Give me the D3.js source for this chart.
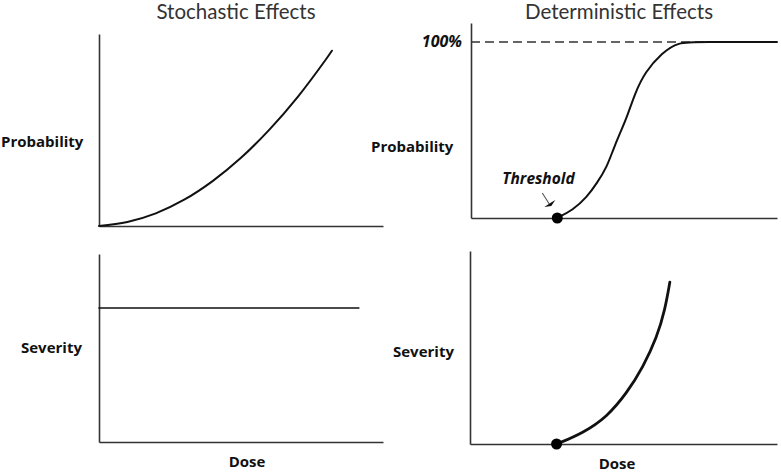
<!DOCTYPE html>
<html>
<head>
<meta charset="utf-8">
<script src="https://cdn.jsdelivr.net/npm/d3@7"></script>
<style>
  html, body { margin: 0; padding: 0; background: #fff; }
  svg { display: block; }
</style>
</head>
<body>
<svg id="chart" width="781" height="472"></svg>
<script>
// ---- data ----
const panelTitles = ["Stochastic Effects", "Deterministic Effects"];
const yLabels = ["Probability", "Severity"];
const xLabel = "Dose";
const maxLabel = "100%";
const thresholdLabel = "Threshold";

const stochProbDose  = [0, 1, 2, 3, 4, 5, 6, 7, 8, 8.2];
const stochProbValue = [0, 2.1, 6.6, 13.7, 23.4, 35.5, 50.2, 67.3, 87.0, 91.3];

const stochSevDose  = [0, 9.15];
const stochSevValue = [71.3, 71.3];

const detProbDose  = [2.81, 3.33, 3.79, 4.12, 4.44, 4.64, 4.87, 5.10, 5.36, 5.69, 6.24, 6.76, 7.48, 10];
const detProbValue = [0, 4.5, 11.9, 19.9, 29.0, 38.6, 48.3, 57.4, 71.0, 83.0, 93.75, 100, 100, 100];

const detSevDose  = [2.83, 3.68, 4.46, 5.11, 5.64, 6.09, 6.35, 6.51];
const detSevValue = [0, 5.7, 14.0, 26.4, 39.9, 55.4, 69.4, 83.9];

const thresholdDose = 2.82;
const maxProbability = 100;

// ---- layout ----
const svg = d3.select("#chart");
const labelFont = "'Open Sans', sans-serif";
const titleFont = "Lato, 'Open Sans', sans-serif";

const panels = [
  { x0: 99,  x1: 383, yb: 226, yt: 34,  ymax: 100,   dose: stochProbDose, val: stochProbValue, w: 2,   curve: d3.curveCatmullRom },
  { x0: 99,  x1: 383, yb: 442, yt: 254, ymax: 100,   dose: stochSevDose,  val: stochSevValue,  w: 1.6, curve: d3.curveLinear },
  { x0: 471, x1: 777, yb: 218, yt: 23,  ymax: 110.8, dose: detProbDose,   val: detProbValue,   w: 2,   curve: d3.curveBasis, det: true, prob: true },
  { x0: 470, x1: 777, yb: 444, yt: 251, ymax: 100,   dose: detSevDose,    val: detSevValue,    w: 2.8, curve: d3.curveBasis, det: true }
];

panels.forEach(p => {
  const x = d3.scaleLinear().domain([0, 10]).range([p.x0, p.x1]);
  const y = d3.scaleLinear().domain([0, p.ymax]).range([p.yb, p.yt]);
  p.x = x; p.y = y;

  // dashed 100% line
  if (p.prob) {
    svg.append("line")
      .attr("x1", x(0)).attr("x2", x(10))
      .attr("y1", y(maxProbability)).attr("y2", y(maxProbability))
      .attr("stroke", "#333").attr("stroke-width", 1.5)
      .attr("stroke-dasharray", "9,5");
    svg.append("text")
      .attr("x", x(0) - 9).attr("y", y(maxProbability) + 5)
      .attr("text-anchor", "end")
      .attr("font-family", labelFont).attr("font-weight", 700).attr("font-style", "italic")
      .attr("font-size", 16).attr("fill", "#111")
      .text(maxLabel);
  }

  const ax = svg.append("g").attr("transform", `translate(0,${p.yb})`)
    .call(d3.axisBottom(x).ticks(0).tickSizeOuter(0));
  const ay = svg.append("g").attr("transform", `translate(${p.x0},0)`)
    .call(d3.axisLeft(y).ticks(0).tickSizeOuter(0));
  [ax, ay].forEach(g => g.select(".domain").attr("stroke", "#333").attr("stroke-width", 1.6));

  const pts = p.dose.map((d, i) => [d, p.val[i]]);
  svg.append("path")
    .datum(pts)
    .attr("fill", "none")
    .attr("stroke", "#111")
    .attr("stroke-width", p.w)
    .attr("stroke-linecap", "round")
    .attr("d", d3.line().x(d => x(d[0])).y(d => y(d[1])).curve(p.curve));

  if (p.det) {
    svg.append("circle")
      .attr("cx", x(thresholdDose)).attr("cy", y(0)).attr("r", 5.5)
      .attr("fill", "#000");
  }
});

// threshold label + arrow
{
  const p = panels[2];
  const tx = p.x(thresholdDose), ty = p.y(0);
  svg.append("text")
    .attr("x", tx - 55).attr("y", ty - 34)
    .attr("font-family", labelFont).attr("font-weight", 700).attr("font-style", "italic")
    .attr("font-size", 15.5).attr("fill", "#111")
    .text(thresholdLabel);
  svg.append("line")
    .attr("x1", tx - 15).attr("y1", ty - 25)
    .attr("x2", tx - 8).attr("y2", ty - 14)
    .attr("stroke", "#555").attr("stroke-width", 1.1);
  svg.append("path")
    .attr("d", `M${tx - 13},${ty - 11} L${tx - 6},${ty - 12} L${tx - 2},${ty - 18} L${tx - 7},${ty - 15} Z`)
    .attr("fill", "#111");
}

// titles
svg.append("text").attr("x", 236).attr("y", 19).attr("text-anchor", "middle")
  .attr("font-family", titleFont).attr("font-size", 20.5).attr("fill", "#333")
  .text(panelTitles[0]);
svg.append("text").attr("x", 619).attr("y", 19).attr("text-anchor", "middle")
  .attr("font-family", titleFont).attr("font-size", 20.5).attr("fill", "#333")
  .text(panelTitles[1]);

// y labels
const yl = [
  { x: 1,   y: 147, t: yLabels[0] },
  { x: 371, y: 152, t: yLabels[0] },
  { x: 21,  y: 353, t: yLabels[1] },
  { x: 393, y: 357, t: yLabels[1] }
];
yl.forEach(l => {
  svg.append("text").attr("x", l.x).attr("y", l.y)
    .attr("font-family", labelFont).attr("font-weight", 700)
    .attr("font-size", 15).attr("fill", "#111")
    .text(l.t);
});
// x labels
[{ x: 247, y: 467 }, { x: 617, y: 469 }].forEach(l => {
  svg.append("text").attr("x", l.x).attr("y", l.y).attr("text-anchor", "middle")
    .attr("font-family", labelFont).attr("font-weight", 700)
    .attr("font-size", 15).attr("fill", "#111")
    .text(xLabel);
});
</script>
</body>
</html>
